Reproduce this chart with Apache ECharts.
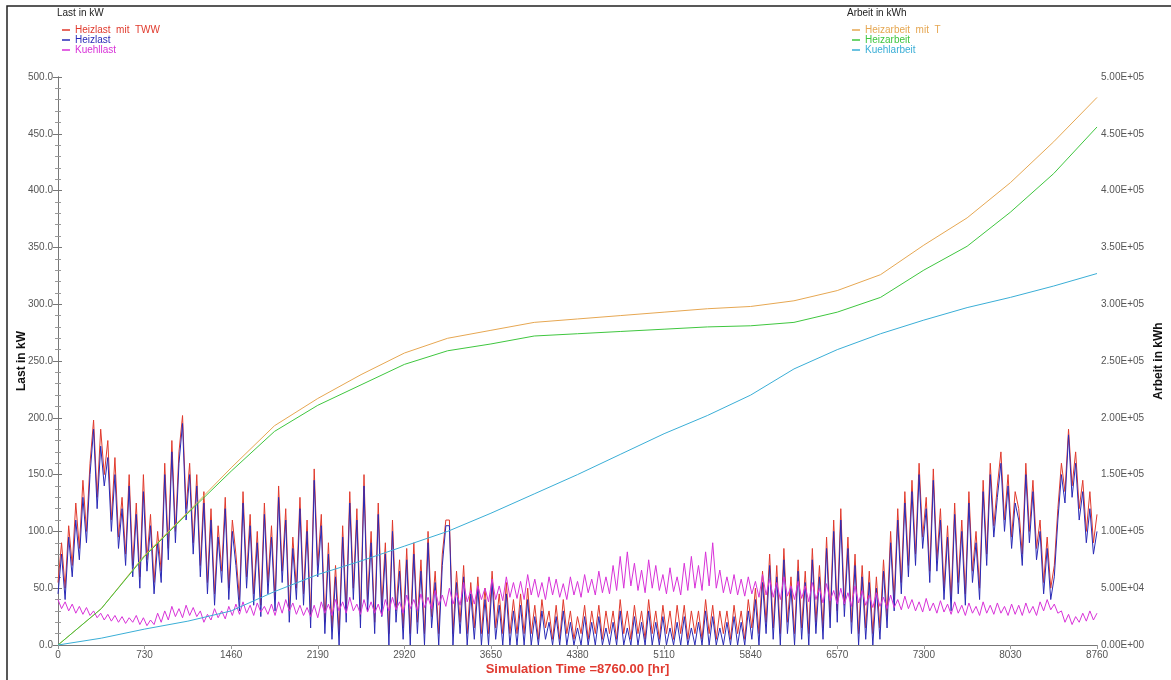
<!DOCTYPE html>
<html>
<head>
<meta charset="utf-8">
<script src="https://cdn.jsdelivr.net/npm/echarts@6/dist/echarts.min.js"></script>
<style>
html,body{margin:0;padding:0;background:#fff;}
#chart{width:1171px;height:680px;}
</style>
</head>
<body>
<div id="chart"></div>
<script>
// ---- data ----
const xTicks = [0, 730, 1460, 2190, 2920, 3650, 4380, 5110, 5840, 6570, 7300, 8030, 8760];
const LOAD_STEP = 30; // hours between samples of the load series
const heizlastTWW = [
 55, 90, 50, 105, 70, 125, 85, 145, 100, 160,
 198, 130, 190, 150, 180, 110, 165, 95, 130, 80,
 150, 70, 125, 60, 150, 75, 115, 55, 100, 65,
 160, 85, 180, 100, 170, 202, 120, 160, 90, 150,
 70, 135, 55, 120, 45, 105, 65, 130, 50, 110,
 80, 40, 135, 60, 115, 45, 100, 35, 125, 55,
 105, 40, 140, 65, 120, 30, 95, 50, 130, 45,
 110, 25, 155, 70, 115, 20, 90, 15, 70, 10,
 105, 30, 135, 50, 120, 25, 150, 40, 100, 20,
 125, 35, 90, 10, 110, 30, 75, 15, 85, 10,
 90, 20, 75, 10, 100, 25, 65, 10, 80, 110,
 110, 10, 65, 20, 70, 10, 55, 15, 60, 10,
 50, 10, 65, 15, 45, 10, 55, 10, 40, 10,
 45, 10, 50, 10, 35, 5, 40, 15, 30, 5,
 35, 5, 40, 10, 30, 5, 25, 10, 35, 5,
 30, 10, 35, 5, 30, 10, 30, 5, 40, 10,
 30, 5, 35, 10, 30, 5, 40, 10, 30, 5,
 35, 10, 30, 5, 35, 10, 35, 5, 30, 10,
 30, 5, 40, 10, 35, 5, 30, 10, 30, 5,
 35, 10, 30, 5, 40, 15, 50, 10, 65, 20,
 80, 15, 70, 10, 85, 20, 60, 10, 75, 15,
 65, 10, 85, 20, 70, 15, 95, 25, 110, 30,
 120, 35, 95, 20, 80, 10, 70, 15, 65, 10,
 60, 15, 75, 25, 100, 40, 120, 55, 135, 70,
 145, 80, 160, 95, 130, 65, 155, 75, 120, 50,
 105, 40, 125, 55, 110, 45, 135, 65, 100, 50,
 145, 80, 160, 105, 140, 170, 110, 150, 95, 135,
 120, 80, 160, 100, 145, 85, 110, 55, 95, 50,
 70, 120, 160, 135, 190, 140, 170, 120, 145, 100,
 135, 90, 115
];
const heizlast = [
 45, 80, 40, 95, 60, 110, 75, 130, 90, 150,
 190, 120, 175, 140, 165, 100, 150, 85, 120, 70,
 140, 60, 115, 50, 135, 65, 105, 45, 90, 55,
 150, 75, 170, 90, 160, 195, 110, 150, 80, 140,
 60, 125, 45, 110, 35, 95, 55, 120, 40, 100,
 70, 30, 125, 50, 105, 35, 90, 25, 115, 45,
 95, 30, 130, 55, 110, 20, 85, 40, 120, 35,
 100, 15, 145, 60, 105, 10, 80, 5, 60, 0,
 95, 20, 125, 40, 110, 15, 140, 30, 90, 10,
 115, 25, 80, 0, 100, 20, 65, 5, 75, 0,
 80, 10, 65, 0, 90, 15, 55, 0, 70, 105,
 105, 0, 55, 10, 60, 0, 45, 5, 50, 0,
 40, 0, 55, 5, 35, 0, 45, 0, 30, 0,
 35, 0, 40, 0, 25, 0, 30, 5, 20, 0,
 25, 0, 30, 0, 20, 0, 15, 0, 25, 0,
 20, 0, 25, 0, 15, 0, 20, 0, 30, 0,
 15, 0, 25, 0, 20, 0, 30, 0, 20, 0,
 25, 0, 15, 0, 20, 0, 25, 0, 15, 0,
 20, 0, 30, 0, 25, 0, 15, 0, 20, 0,
 25, 0, 20, 0, 30, 5, 40, 0, 55, 10,
 70, 5, 60, 0, 75, 10, 50, 0, 65, 5,
 55, 0, 75, 10, 60, 5, 85, 15, 100, 20,
 110, 25, 85, 10, 70, 0, 60, 5, 55, 0,
 50, 5, 65, 15, 90, 30, 110, 45, 125, 60,
 135, 70, 150, 85, 120, 55, 145, 65, 110, 40,
 95, 30, 115, 45, 100, 35, 125, 55, 90, 40,
 135, 70, 150, 95, 130, 160, 100, 140, 85, 125,
 110, 70, 150, 90, 135, 75, 100, 45, 85, 40,
 60, 110, 150, 125, 185, 130, 160, 110, 135, 90,
 120, 80, 100
];
const kuehllast = [
 40, 32, 38, 30, 36, 28, 34, 27, 33, 26,
 30, 24, 28, 22, 27, 21, 26, 20, 25, 19,
 24, 20, 26, 18, 24, 17, 22, 18, 28, 20,
 30, 22, 34, 25, 32, 24, 35, 26, 33, 25,
 30, 20, 27, 22, 32, 24, 30, 23, 34, 26,
 36, 27, 38, 28, 35, 26, 37, 29, 34, 27,
 36, 26, 38, 28, 40, 30, 37, 27, 35, 26,
 33, 25, 35, 24, 38, 28, 36, 26, 40, 30,
 38, 28, 42, 30, 36, 27, 40, 29, 38, 28,
 36, 26, 40, 30, 42, 31, 38, 28, 44, 32,
 40, 30, 45, 33, 42, 32, 48, 35, 44, 34,
 50, 36, 46, 35, 55, 38, 48, 36, 52, 40,
 50, 38, 58, 40, 52, 39, 60, 42, 55, 41,
 56, 40, 62, 44, 58, 42, 55, 40, 60, 44,
 58, 42, 54, 40, 60, 44, 56, 42, 62, 46,
 58, 44, 65, 46, 60, 45, 70, 48, 78, 50,
 82, 52, 72, 48, 66, 46, 75, 50, 70, 48,
 62, 45, 68, 47, 60, 44, 72, 48, 78, 50,
 70, 48, 82, 52, 90, 50, 66, 46, 60, 45,
 62, 44, 58, 43, 60, 45, 56, 42, 62, 44,
 58, 42, 55, 40, 60, 43, 52, 40, 56, 41,
 52, 38, 55, 40, 50, 37, 54, 39, 48, 36,
 50, 36, 46, 34, 52, 37, 48, 35, 44, 33,
 46, 34, 42, 32, 44, 33, 40, 31, 43, 32,
 40, 30, 38, 29, 41, 30, 37, 28, 39, 29,
 36, 27, 38, 28, 35, 26, 37, 28, 34, 26,
 38, 28, 35, 27, 37, 28, 34, 26, 36, 27,
 35, 26, 37, 28, 34, 26, 38, 30, 40, 31,
 36, 28, 30, 20, 27, 18, 25, 20, 28, 21,
 30, 22, 28
];
const WORK_STEP = 365; // hours between samples of the cumulative series
const heizarbeitT = [0, 32000, 79000, 117000, 156000, 193000, 217000, 238000, 257000, 270000, 277000, 284000, 287000, 290000, 293000, 296000, 298000, 303000, 312000, 326000, 352000, 376000, 407000, 443000, 482000];
const heizarbeit  = [0, 32000, 78000, 116000, 153000, 188000, 211000, 229000, 247000, 259000, 265000, 272000, 274000, 276000, 278000, 280000, 281000, 284000, 293000, 306000, 330000, 351000, 381000, 415000, 456000];
const kuehlarbeit = [0, 6000, 14000, 21000, 30000, 47000, 62000, 74000, 87000, 100000, 116000, 133000, 150000, 168000, 186000, 202000, 220000, 243000, 260000, 274000, 286000, 297000, 306000, 316000, 327000];

// ---- chart ----
const FONT = '"Liberation Sans", Arial, sans-serif';
const C = {
  red: '#e0392c', blue: '#2a2ab6', mag: '#d832d8',
  orange: '#e6a752', green: '#3fc63f', cyan: '#3aaed6'
};
const toPairs = (arr, step) => arr.map((v, i) => [i * step, v]);
const expFmt = v => v.toExponential(2).toUpperCase().replace(/E([+-])(\d+)$/, (m, s, d) => 'E' + s + (d.length < 2 ? '0' + d : d));

const chart = echarts.init(document.getElementById('chart'), null, {renderer: 'canvas'});
const lineSeries = (name, data, color, yIdx, extra) => Object.assign({
  name, type: 'line', data, yAxisIndex: yIdx, xAxisIndex: 0,
  showSymbol: false, symbol: 'none', animation: false,
  lineStyle: {width: 1, color}, itemStyle: {color}
}, extra || {});

chart.setOption({
  animation: false,
  textStyle: {fontFamily: FONT},
  grid: {left: 58, right: 74, top: 77, bottom: 35, containLabel: false, outerBoundsMode: 'none'},
  graphic: [
    {type: 'rect', shape: {x: 7, y: 6, width: 1175, height: 690}, style: {fill: 'none', stroke: '#222', lineWidth: 1.5}, silent: true},
    {type: 'text', left: 57, top: 8, style: {text: 'Last in kW', fill: '#222', font: '10px ' + FONT}},
    {type: 'text', left: 847, top: 8, style: {text: 'Arbeit in kWh', fill: '#222', font: '10px ' + FONT}}
  ],
  legend: [
    {left: 57, top: 20, orient: 'vertical', itemGap: 0, itemWidth: 8, itemHeight: 1.5, icon: 'rect',
     textStyle: {fontSize: 10, lineHeight: 10, fontFamily: FONT},
     data: [
      {name: 'Heizlast  mit  TWW', textStyle: {color: C.red}},
      {name: 'Heizlast', textStyle: {color: C.blue}},
      {name: 'Kuehllast', textStyle: {color: C.mag}}
     ]},
    {left: 847, top: 20, orient: 'vertical', itemGap: 0, itemWidth: 8, itemHeight: 1.5, icon: 'rect',
     textStyle: {fontSize: 10, lineHeight: 10, fontFamily: FONT},
     data: [
      {name: 'Heizarbeit  mit  T', textStyle: {color: C.orange}},
      {name: 'Heizarbeit', textStyle: {color: C.green}},
      {name: 'Kuehlarbeit', textStyle: {color: C.cyan}}
     ]}
  ],
  xAxis: [
    {type: 'value', min: xTicks[0], max: xTicks[xTicks.length - 1], interval: xTicks[1] - xTicks[0], position: 'bottom',
     name: 'Simulation Time =8760.00 [hr]', nameLocation: 'middle', nameGap: 18, nameMoveOverlap: false,
     nameTextStyle: {color: '#e03a30', fontWeight: 'bold', fontSize: 13, fontFamily: FONT},
     axisLine: {show: true, lineStyle: {color: '#777'}},
     axisTick: {show: true, length: 4, lineStyle: {color: '#777'}},
     axisLabel: {color: '#555', fontSize: 10, margin: 5, fontFamily: FONT, formatter: v => String(v)},
     splitLine: {show: false}},
    {type: 'value', min: xTicks[0], max: xTicks[xTicks.length - 1], interval: xTicks[1] - xTicks[0], position: 'top',
     axisLine: {show: true, lineStyle: {color: '#777'}},
     axisTick: {show: true, inside: true, length: 4, lineStyle: {color: '#999'}},
     axisLabel: {show: false}, splitLine: {show: false}}
  ],
  yAxis: [
    {type: 'value', min: 0, max: 500, interval: 50, position: 'left',
     name: 'Last in kW', nameLocation: 'middle', nameGap: 30, nameRotate: 90, nameMoveOverlap: false,
     nameTextStyle: {color: '#111', fontWeight: 'bold', fontSize: 12, fontFamily: FONT},
     axisLine: {show: true, lineStyle: {color: '#777'}},
     axisTick: {show: true, length: 5, lineStyle: {color: '#777'}},
     minorTick: {show: true, splitNumber: 5, length: 3, lineStyle: {color: '#999'}},
     axisLabel: {color: '#555', fontSize: 10, margin: 5, fontFamily: FONT, formatter: v => v.toFixed(1)},
     splitLine: {show: false}},
    {type: 'value', min: 0, max: 500000, interval: 50000, position: 'right',
     name: 'Arbeit in kWh', nameLocation: 'middle', nameGap: 56, nameRotate: 90, nameMoveOverlap: false,
     nameTextStyle: {color: '#111', fontWeight: 'bold', fontSize: 12, fontFamily: FONT},
     axisLine: {show: true, lineStyle: {color: '#777'}},
     axisTick: {show: true, length: 4, lineStyle: {color: '#777'}},
     minorTick: {show: true, splitNumber: 5, length: 3, lineStyle: {color: '#999'}},
     axisLabel: {color: '#555', fontSize: 10, margin: 4, fontFamily: FONT, formatter: expFmt},
     splitLine: {show: false}}
  ],
  series: [
    lineSeries('Heizlast  mit  TWW', toPairs(heizlastTWW, LOAD_STEP), C.red, 0),
    lineSeries('Heizlast', toPairs(heizlast, LOAD_STEP), C.blue, 0),
    lineSeries('Kuehllast', toPairs(kuehllast, LOAD_STEP), C.mag, 0),
    lineSeries('Heizarbeit  mit  T', toPairs(heizarbeitT, WORK_STEP), C.orange, 1),
    lineSeries('Heizarbeit', toPairs(heizarbeit, WORK_STEP), C.green, 1),
    lineSeries('Kuehlarbeit', toPairs(kuehlarbeit, WORK_STEP), C.cyan, 1)
  ]
});
</script>
</body>
</html>
